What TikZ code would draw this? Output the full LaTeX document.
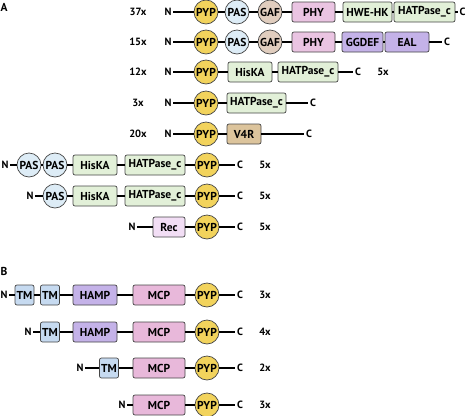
\documentclass[tikz,border=0pt]{standalone}
\usepackage{fontspec}
\setmainfont{PT Sans}
\usepackage{tikz}
\usetikzlibrary{calc, positioning, shapes}

\definecolor{pypcol}{RGB}{242,211,92}
\definecolor{pascol}{RGB}{221,236,246}
\definecolor{gafcol}{RGB}{224,205,190}
\definecolor{phycol}{RGB}{234,196,226}
\definecolor{hkcol}{RGB}{226,240,216}
\definecolor{ggcol}{RGB}{196,178,232}
\definecolor{v4rcol}{RGB}{220,196,156}
\definecolor{reccol}{RGB}{242,222,245}
\definecolor{tmcol}{RGB}{198,218,240}
\definecolor{mcpcol}{RGB}{232,184,218}
\definecolor{edgecol}{RGB}{70,70,70}

\tikzstyle{dom}=[draw=edgecol, line width=0.7pt, rounded corners=2pt, minimum height=20pt, inner sep=0pt, font=\bfseries\fontsize{11.5}{11.5}\selectfont]
\tikzstyle{glob}=[draw=edgecol, line width=0.7pt, circle, minimum size=24pt, inner sep=0pt, font=\bfseries\fontsize{11.5}{11.5}\selectfont]
\tikzstyle{term}=[inner sep=1.5pt, font=\bfseries\fontsize{10.5}{10.5}\selectfont]
\tikzstyle{cnt}=[inner sep=0pt, font=\bfseries\fontsize{10.5}{10.5}\selectfont]
\tikzstyle{link}=[line width=1.3pt]

\begin{document}
\begin{tikzpicture}[x=1pt, y=-1pt]
			\useasboundingbox (0,0) rectangle (467,416);
			\node[inner sep=0pt, font=\bfseries\fontsize{11.5}{11.5}\selectfont] (la) at (4,7) {A};
			\node[inner sep=0pt, font=\bfseries\fontsize{11.5}{11.5}\selectfont] (lb) at (4,271) {B};

			% panel A
			\node[cnt] (a1x) at (138,12) {37x};
			\node[term] (a1n) at (168,12) {N};
			\node[glob, fill=pypcol] (a1p) at (206,12) {PYP};
			\node[glob, fill=pascol] (a1s) at (237,12) {PAS};
			\node[glob, fill=gafcol] (a1g) at (270,12) {GAF};
			\node[dom, fill=phycol, minimum width=43pt] (a1f) at (313.5,12) {PHY};
			\node[dom, fill=hkcol, minimum width=49pt] (a1h) at (367.5,12) {HWE-HK};
			\node[dom, fill=hkcol, minimum width=61pt] (a1t) at (424.5,12) {HATPase\_c};
			\node[term] (a1c) at (462.5,12) {C};
			\draw[link] (a1n) -- (a1p) -- (a1s) -- (a1g) -- (a1f) -- (a1h) -- (a1t) -- (a1c);

			\node[cnt] (a2x) at (138,42) {15x};
			\node[term] (a2n) at (168,42) {N};
			\node[glob, fill=pypcol] (a2p) at (206,42) {PYP};
			\node[glob, fill=pascol] (a2s) at (237,42) {PAS};
			\node[glob, fill=gafcol] (a2g) at (270,42) {GAF};
			\node[dom, fill=phycol, minimum width=43pt] (a2f) at (313.5,42) {PHY};
			\node[dom, fill=ggcol, minimum width=41pt] (a2d) at (362.5,42) {GGDEF};
			\node[dom, fill=ggcol, minimum width=44pt] (a2e) at (407,42) {EAL};
			\node[term] (a2c) at (447,42) {C};
			\draw[link] (a2n) -- (a2p) -- (a2s) -- (a2g) -- (a2f) -- (a2d) -- (a2e) -- (a2c);

			\node[cnt] (a3x) at (138,72) {12x};
			\node[term] (a3n) at (168,72) {N};
			\node[glob, fill=pypcol] (a3p) at (206,72) {PYP};
			\node[dom, fill=hkcol, minimum width=44pt] (a3h) at (250,72) {HisKA};
			\node[dom, fill=hkcol, minimum width=60pt] (a3t) at (308,72) {HATPase\_c};
			\node[term] (a3c) at (358,72) {C};
			\node[cnt] (a3y) at (383,72) {5x};
			\draw[link] (a3n) -- (a3p) -- (a3h) -- (a3t) -- (a3c);

			\node[cnt] (a4x) at (138,103) {3x};
			\node[term] (a4n) at (168,103) {N};
			\node[glob, fill=pypcol] (a4p) at (206,103) {PYP};
			\node[dom, fill=hkcol, minimum width=59pt] (a4t) at (256.5,103) {HATPase\_c};
			\node[term] (a4c) at (313,103) {C};
			\draw[link] (a4n) -- (a4p) -- (a4t) -- (a4c);

			\node[cnt] (a5x) at (138,134) {20x};
			\node[term] (a5n) at (168,134) {N};
			\node[glob, fill=pypcol] (a5p) at (206,134) {PYP};
			\node[dom, fill=v4rcol, minimum width=34pt] (a5v) at (244,134) {V4R};
			\node[term] (a5c) at (309,134) {C};
			\draw[link] (a5n) -- (a5p) -- (a5v) -- (a5c);

			\node[term] (a6n) at (5,165) {N};
			\node[glob, fill=pascol] (a6s) at (29,165) {PAS};
			\node[glob, fill=pascol] (a6r) at (55,165) {PAS};
			\node[dom, fill=hkcol, minimum width=44pt] (a6h) at (95,165) {HisKA};
			\node[dom, fill=hkcol, minimum width=60pt] (a6t) at (155,165) {HATPase\_c};
			\node[glob, fill=pypcol] (a6p) at (207,165) {PYP};
			\node[term] (a6c) at (240,165) {C};
			\node[cnt] (a6x) at (265,165) {5x};
			\draw[link] (a6n) -- (a6s) -- (a6r) -- (a6h) -- (a6t) -- (a6p) -- (a6c);

			\node[term] (a7n) at (30,196) {N};
			\node[glob, fill=pascol] (a7s) at (55,196) {PAS};
			\node[dom, fill=hkcol, minimum width=44pt] (a7h) at (95,196) {HisKA};
			\node[dom, fill=hkcol, minimum width=60pt] (a7t) at (155,196) {HATPase\_c};
			\node[glob, fill=pypcol] (a7p) at (207,196) {PYP};
			\node[term] (a7c) at (240,196) {C};
			\node[cnt] (a7x) at (265,196) {5x};
			\draw[link] (a7n) -- (a7s) -- (a7h) -- (a7t) -- (a7p) -- (a7c);

			\node[term] (a8n) at (132,227) {N};
			\node[dom, fill=reccol, minimum width=32pt] (a8r) at (169,227) {Rec};
			\node[glob, fill=pypcol] (a8p) at (207,227) {PYP};
			\node[term] (a8c) at (240,227) {C};
			\node[cnt] (a8x) at (265,227) {5x};
			\draw[link] (a8n) -- (a8r) -- (a8p) -- (a8c);

			% panel B
			\node[term] (b1n) at (4,295) {N};
			\node[dom, fill=tmcol, minimum width=19pt] (b1m) at (24.5,295) {TM};
			\node[dom, fill=tmcol, minimum width=19pt] (b1k) at (50,295) {TM};
			\node[dom, fill=ggcol, minimum width=44pt] (b1h) at (95,295) {HAMP};
			\node[dom, fill=mcpcol, minimum width=52pt] (b1q) at (159,295) {MCP};
			\node[glob, fill=pypcol] (b1p) at (207,295) {PYP};
			\node[term] (b1c) at (240,295) {C};
			\node[cnt] (b1x) at (265,295) {3x};
			\draw[link] (b1n) -- (b1m) -- (b1k) -- (b1h) -- (b1q) -- (b1p) -- (b1c);

			\node[term] (b2n) at (28,332) {N};
			\node[dom, fill=tmcol, minimum width=19pt] (b2k) at (50,332) {TM};
			\node[dom, fill=ggcol, minimum width=44pt] (b2h) at (95,332) {HAMP};
			\node[dom, fill=mcpcol, minimum width=52pt] (b2q) at (159,332) {MCP};
			\node[glob, fill=pypcol] (b2p) at (207,332) {PYP};
			\node[term] (b2c) at (240,332) {C};
			\node[cnt] (b2x) at (265,332) {4x};
			\draw[link] (b2n) -- (b2k) -- (b2h) -- (b2q) -- (b2p) -- (b2c);

			\node[term] (b3n) at (80,368) {N};
			\node[dom, fill=tmcol, minimum width=19pt] (b3k) at (109,368) {TM};
			\node[dom, fill=mcpcol, minimum width=52pt] (b3q) at (159,368) {MCP};
			\node[glob, fill=pypcol] (b3p) at (207,368) {PYP};
			\node[term] (b3c) at (240,368) {C};
			\node[cnt] (b3x) at (265,368) {2x};
			\draw[link] (b3n) -- (b3k) -- (b3q) -- (b3p) -- (b3c);

			\node[term] (b4n) at (122,405) {N};
			\node[dom, fill=mcpcol, minimum width=52pt] (b4q) at (159,405) {MCP};
			\node[glob, fill=pypcol] (b4p) at (207,405) {PYP};
			\node[term] (b4c) at (240,405) {C};
			\node[cnt] (b4x) at (265,405) {3x};
			\draw[link] (b4n) -- (b4q) -- (b4p) -- (b4c);
		\end{tikzpicture}
\end{document}
